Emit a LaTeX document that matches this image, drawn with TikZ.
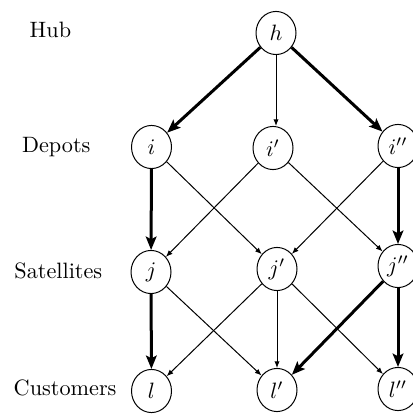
\documentclass[tikz,border=0pt]{standalone}
\usetikzlibrary{shapes.geometric,arrows.meta}
\begin{document}
\begin{tikzpicture}[x=0.45pt,y=-0.45pt,
  vtx/.style={draw,ellipse,line width=0.45pt,minimum width=18pt,minimum height=19.4pt,inner sep=0pt},
  lvl/.style={anchor=base west,inner sep=0pt},
  thin/.style={line width=0.45pt,-{Latex[length=3pt,width=2.4pt]}},
  thick/.style={line width=1.35pt,-{Stealth[length=6pt,width=4.8pt,inset=1.2pt]}}]
\useasboundingbox (0,0) rectangle (413,414);
% level labels
\node[lvl] (tHub) at (29.3,38) {Hub};
\node[lvl] (tDep) at (21.7,153) {Depots};
\node[lvl] (tSat) at (14,278) {Satellites};
\node[lvl] (tCus) at (13.3,395) {Customers};
% nodes
\node[vtx] (h)   at (276,33)    {$h$};
\node[vtx] (i)   at (151.5,147) {$i$};
\node[vtx] (ip)  at (273,148)   {$i'$};
\node[vtx] (ipp) at (398,146)   {$i''$};
\node[vtx] (j)   at (151,272)   {$j$};
\node[vtx] (jp)  at (277,269)   {$j'$};
\node[vtx] (jpp) at (398,266)   {$j''$};
\node[vtx] (l)   at (151.5,391) {$l$};
\node[vtx] (lp)  at (277,390)   {$l'$};
\node[vtx] (lpp) at (398,389)   {$l''$};
% edges
\draw[thick] (h) -- (i);
\draw[thin]  (h) -- (h |- ip.north);
\draw[thick] (h) -- (ipp);
\draw[thick] (i) -- (j);
\draw[thin]  (i) -- (jp);
\draw[thin]  (ip) -- (j);
\draw[thin]  (ip) -- (jpp);
\draw[thin]  (ipp) -- (jp);
\draw[thick] (ipp) -- (jpp);
\draw[thick] (j) -- (l);
\draw[thin]  (j) -- (lp);
\draw[thin]  (jp) -- (l);
\draw[thin]  (jp) -- (lp);
\draw[thin]  (jp) -- (lpp);
\draw[thick] (jpp) -- (lp);
\draw[thick] (jpp) -- (lpp);
\end{tikzpicture}
\end{document}
